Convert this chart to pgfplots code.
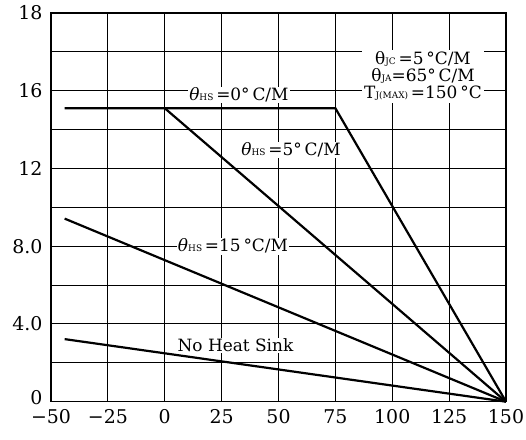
\documentclass[border=0pt]{standalone}
\usepackage{fontspec}
\setmainfont{DejaVu Serif}
\usepackage{pgfplots}
\pgfplotsset{compat=1.18}
\newcommand\sub[1]{{\fontsize{9}{9}\selectfont #1}}
\newcommand\annfont{\fontsize{17}{20}\selectfont}
\tikzset{curve/.style={black, line width=2.2bp, mark=none}}
\begin{document}
\begin{tikzpicture}[x=1bp,y=1bp]
\useasboundingbox (-51,-38.3) rectangle (475,401.7);
\begin{axis}[
  at={(0,0)}, anchor=south west,
  scale only axis, width=455bp, height=388.7bp,
  xmin=-50, xmax=150, ymin=0, ymax=20,
  xtick={-50,-25,...,150},
  xticklabels={−50,−25,0,25,50,75,100,125,150},
  ytick={0,2,...,20},
  yticklabels={\raisebox{9bp}{0},,4.0,,8.0,,12,,16,,18},
  grid=major,
  major grid style={black, line width=1bp},
  axis line style={black, line width=1.3bp},
  tick style={draw=none},
  ticklabel style={font=\fontsize{19}{22}\selectfont},
  xticklabel style={yshift=-4bp},
  yticklabel style={xshift=-5bp},
  clip=false,
]
\addplot[curve] coordinates {(-44,15.1) (75,15.1) (150,0)};
\addplot[curve] coordinates {(0,15.1) (150,0)};
\addplot[curve] coordinates {(-44,9.42) (150,0)};
\addplot[curve] coordinates {(-44,3.22) (150,0)};

\node[fill=white, inner sep=1bp, font=\annfont] at (axis cs:32.6,15.78) {\textit{θ}\sub{HS}\,=0°\,C/M};
\node[fill=white, inner sep=1bp, font=\annfont] at (axis cs:55.5,12.96) {\textit{θ}\sub{HS}\,=5°\,C/M};
\node[fill=white, inner sep=1bp, font=\annfont] at (axis cs:30,8.0) {\textit{θ}\sub{HS}\,=15\,°C/M};
\node[fill=white, inner sep=1bp, font=\annfont] at (axis cs:31.1,2.9) {No Heat Sink};
\node[fill=white, inner sep=2bp, font=\annfont, align=center] at (axis cs:113.5,16.75)
  {θ\sub{JC}\,=5\,°C/M\\[-3bp] θ\sub{JA}=65°\,C/M\\[-3bp] T\sub{J(MAX)}\,=150\,°C};
\end{axis}
\end{tikzpicture}
\end{document}
